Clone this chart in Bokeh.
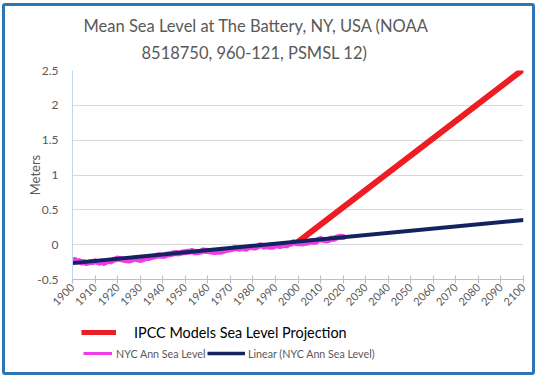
from bokeh.plotting import figure
from bokeh.models import Range1d, FixedTicker, Legend, LegendItem, Title
from bokeh.layouts import column
from bokeh.embed import file_html
from bokeh.resources import INLINE
import math

# ---- data ----
years = list(range(1900, 2021))
sea_level = [
    -0.225, -0.220, -0.245, -0.235, -0.255, -0.250, -0.262, -0.258, -0.250, -0.250,  # 1900s
    -0.238, -0.248, -0.258, -0.240, -0.262, -0.245, -0.232, -0.240, -0.222, -0.212,  # 1910s
    -0.200, -0.205, -0.210, -0.220, -0.222, -0.228, -0.220, -0.205, -0.200, -0.210,  # 1920s
    -0.220, -0.212, -0.200, -0.192, -0.190, -0.180, -0.172, -0.165, -0.152, -0.160,  # 1930s
    -0.160, -0.158, -0.142, -0.140, -0.132, -0.122, -0.120, -0.125, -0.118, -0.110,  # 1940s
    -0.110, -0.100, -0.102, -0.090, -0.108, -0.110, -0.108, -0.100, -0.082, -0.090,  # 1950s
    -0.088, -0.098, -0.100, -0.108, -0.100, -0.098, -0.100, -0.090, -0.080, -0.070,  # 1960s
    -0.068, -0.060, -0.050, -0.052, -0.060, -0.050, -0.052, -0.060, -0.040, -0.030,  # 1970s
    -0.040, -0.042, -0.030, -0.010, -0.012, -0.030, -0.020, -0.030, -0.028, -0.030,  # 1980s
    -0.010, -0.012, -0.020, -0.010, 0.000, -0.010, 0.010, 0.012, 0.035, 0.025,      # 1990s
    0.020, 0.022, 0.018, 0.030, 0.028, 0.040, 0.050, 0.040, 0.042, 0.070,           # 2000s
    0.080, 0.070, 0.062, 0.060, 0.072, 0.090, 0.082, 0.100, 0.110, 0.112,           # 2010s
    0.110,                                                                            # 2020
]
trend_years = [1900, 2100]
trend_level = [-0.265, 0.355]
ipcc_years = [2000, 2100]
ipcc_level = [0.04, 2.52]
x_ticks = list(range(1900, 2101, 10))
y_ticks = [-0.5, 0, 0.5, 1, 1.5, 2, 2.5]
y_tick_labels = ["-0.5", "0", "0.5", "1", "1.5", "2", "2.5"]
title_lines = ["Mean Sea Level at The Battery, NY, USA  (NOAA", "8518750, 960-121, PSMSL 12)"]
legend_labels = ["IPCC Models Sea Level Projection", "NYC Ann Sea Level", "Linear (NYC Ann Sea Level)"]

RED, MAGENTA, NAVY = "#EE1D23", "#F03CE8", "#13235F"
W = 527
FONT = "Lato"
GREY = "#595959"
NAN = float("nan")

p = figure(width=W, height=311, output_backend="svg", toolbar_location=None, title=None,
           x_range=Range1d(1900, 2100), y_range=Range1d(-0.5, 2.5),
           min_border_left=67, min_border_right=9, min_border_top=64, min_border_bottom=38)
p.outline_line_color = None
p.background_fill_color = "white"
p.border_fill_color = "white"

# title: two lines (first added sits nearest the plot)
for txt, standoff, off in ((title_lines[1], 15, 69), (title_lines[0], -5, 11)):
    p.add_layout(Title(text=txt, align="left", offset=off, standoff=standoff,
                       text_font=FONT, text_font_size="16.5px", text_font_style="normal",
                       text_color=GREY), "above")

# grid
p.xgrid.grid_line_color = None
p.ygrid.grid_line_color = "#D9D9D9"
p.ygrid.grid_line_width = 1
p.ygrid.ticker = FixedTicker(ticks=y_ticks)

# x axis
p.xaxis.ticker = FixedTicker(ticks=x_ticks)
p.xaxis.major_label_orientation = math.pi / 4
p.xaxis.axis_line_color = "#BFBFBF"
p.xaxis.major_tick_line_color = "#BFBFBF"
p.xaxis.major_tick_in = 4
p.xaxis.major_tick_out = 4
p.xaxis.minor_tick_line_color = None
p.xaxis.major_label_text_font = FONT
p.xaxis.major_label_text_font_size = "11px"
p.xaxis.major_label_text_color = GREY
p.xaxis.major_label_standoff = 2

# y axis
p.yaxis.ticker = FixedTicker(ticks=y_ticks)
p.yaxis.major_label_overrides = {t: s for t, s in zip(y_ticks, y_tick_labels)}
p.yaxis.axis_line_color = "#BDD7EE"
p.yaxis.major_tick_line_color = None
p.yaxis.minor_tick_line_color = None
p.yaxis.major_label_text_font = FONT
p.yaxis.major_label_text_font_size = "12px"
p.yaxis.major_label_text_color = GREY
p.yaxis.major_label_standoff = 8
p.yaxis.axis_label = "Meters"
p.yaxis.axis_label_text_font = FONT
p.yaxis.axis_label_text_font_size = "13px"
p.yaxis.axis_label_text_font_style = "normal"
p.yaxis.axis_label_text_color = GREY
p.yaxis.axis_label_standoff = -9

# series
p.line(ipcc_years, ipcc_level, line_color=RED, line_width=6, line_cap="round")
p.line(years, sea_level, line_color=MAGENTA, line_width=6, line_join="round", line_cap="round")
p.line(trend_years, trend_level, line_color=NAVY, line_width=4)

# legend strip below the chart
lg = figure(width=W, height=55, output_backend="svg", toolbar_location=None,
            x_range=Range1d(0, 1), y_range=Range1d(0, 1), x_axis_type=None, y_axis_type=None,
            min_border_left=67, min_border_right=9, min_border_top=0, min_border_bottom=0)
lg.outline_line_color = None
lg.xgrid.visible = False
lg.ygrid.visible = False
k_red = lg.line([NAN], [NAN], line_color=RED, line_width=5)
k_mag = lg.line([NAN], [NAN], line_color=MAGENTA, line_width=3)
k_navy = lg.line([NAN], [NAN], line_color=NAVY, line_width=3.5)

common = dict(orientation="horizontal", padding=0, margin=0, border_line_alpha=0,
              background_fill_alpha=0, label_text_font=FONT)
leg1 = Legend(items=[LegendItem(label=legend_labels[0], renderers=[k_red])],
              location=(9, 31), glyph_width=35, glyph_height=18, label_standoff=18,
              label_text_font_size="14.4px", label_text_color="#000000", **common)
leg2 = Legend(items=[LegendItem(label=legend_labels[1], renderers=[k_mag])],
              location=(11, 12), glyph_width=29, glyph_height=14, label_standoff=4,
              label_text_font_size="10.7px", label_text_color=GREY, **common)
leg3 = Legend(items=[LegendItem(label=legend_labels[2], renderers=[k_navy])],
              location=(135, 12), glyph_width=38, glyph_height=14, label_standoff=3,
              label_text_font_size="10.7px", label_text_color=GREY, **common)
for leg in (leg1, leg2, leg3):
    lg.add_layout(leg)

page = column(p, lg, spacing=0,
              styles={"border": "3px solid #2E75B6", "border-radius": "3px",
                      "margin-left": "2px", "margin-top": "3px"})
open("out.html", "w").write(file_html(page, INLINE))
